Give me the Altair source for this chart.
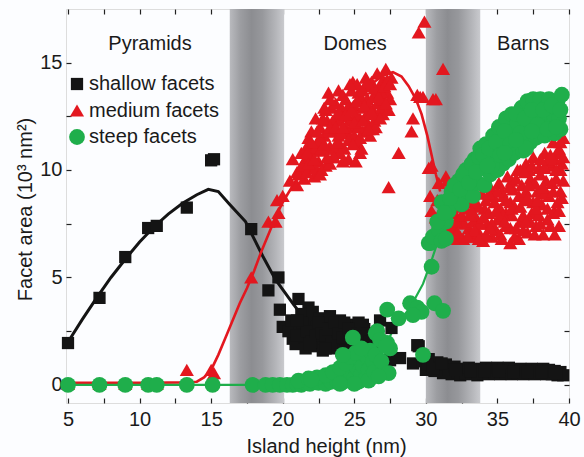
import altair as alt
import pandas as pd

# ---------------- data ----------------
series_names = ["shallow facets", "medium facets", "steep facets"]
series_colors = ["#141414", "#e3171f", "#1fae4b"]
series_shapes = ["square", "triangle-up", "circle"]
series_sizes = [150, 250, 185]

shallow_x = [5.0, 7.2, 9.0, 10.6, 11.2, 13.3, 15.0, 15.2,
             17.8, 19.0, 19.7, 19.8, 20.0, 20.7, 21.1, 21.8,
             20.4, 20.9, 21.2, 21.3, 21.5, 21.6, 21.9, 22.0, 22.1, 22.2, 22.4, 22.5, 22.6, 22.8,
             22.9, 23.0, 23.1, 23.3, 23.4, 23.5, 23.7, 23.8, 24.0, 24.1, 24.2, 24.4, 24.5, 24.7,
             24.8, 25.0, 25.1, 25.3, 25.4, 25.5, 25.7, 25.8, 26.0, 26.2, 26.4,
             20.6, 21.0, 21.4, 21.7, 22.0, 22.3, 22.5, 22.7, 23.0, 23.2, 23.4, 23.6, 23.9, 24.2,
             24.3, 24.6, 24.9, 25.2, 25.5, 25.6, 25.9, 26.1, 23.0, 24.5, 21.9, 21.0,
             26.8, 27.6, 29.5, 27.5, 28.2, 29.1, 27.0, 26.8, 29.4,
             29.8, 30.0, 30.2, 30.4, 30.6, 30.8, 31.0, 31.2, 31.4, 31.6, 31.8, 32.0, 32.2, 32.4,
             32.6, 32.8, 33.0, 33.2, 33.4, 33.6, 33.8, 34.0, 34.2, 34.4, 34.6, 34.8, 35.0, 35.2,
             35.4, 35.6, 35.8, 36.0, 36.2, 36.4, 36.6, 36.8, 37.0, 37.2, 37.4, 37.6, 37.8, 38.0,
             38.2, 38.4, 38.6, 38.8, 39.0, 39.2, 39.4, 39.6,
             30.1, 30.5, 31.1, 32.1, 33.1, 34.1, 35.1, 36.1, 37.1, 38.1, 39.1]
shallow_y = [1.95, 4.05, 5.95, 7.3, 7.4, 8.25, 10.45, 10.5,
             7.25, 4.4, 5.0, 3.5, 2.7, 2.15, 4.0, 3.6,
             2.5, 1.9, 2.6, 3.3, 2.2, 1.7, 2.9, 2.4, 3.4, 1.8, 2.7, 2.1, 3.1, 1.6,
             2.5, 2.9, 2.0, 3.2, 2.4, 1.7, 2.7, 2.1, 3.0, 1.6, 2.5, 2.0, 2.8, 2.3,
             1.7, 2.6, 2.0, 2.9, 1.5, 2.3, 2.6, 1.9, 2.2, 1.6, 2.0,
             3.0, 2.3, 2.9, 2.5, 2.0, 2.3, 2.9, 2.4, 2.3, 2.6, 1.9, 2.9, 2.4, 2.2,
             2.9, 2.6, 2.2, 2.4, 2.0, 2.8, 2.4, 2.0, 1.7, 1.6, 1.9, 3.0,
             3.0, 2.65, 1.8, 1.15, 1.25, 1.0, 0.85, 1.0, 1.85,
             1.1, 0.7, 1.2, 0.9, 0.65, 1.05, 0.8, 0.55, 0.95, 0.7, 0.5, 0.85, 0.6, 0.45,
             0.75, 0.55, 0.8, 0.5, 0.7, 0.45, 0.75, 0.55, 0.8, 0.5, 0.7, 0.55, 0.8, 0.5,
             0.75, 0.55, 0.8, 0.5, 0.7, 0.55, 0.75, 0.5, 0.7, 0.55, 0.75, 0.5, 0.7, 0.55,
             0.75, 0.5, 0.7, 0.5, 0.65, 0.45, 0.6, 0.45,
             0.95, 0.75, 1.0, 0.7, 0.65, 0.65, 0.65, 0.6, 0.6, 0.6, 0.55]

medium_x = [5.0, 7.2, 9.0, 10.6, 11.2, 13.3, 15.0, 15.2,
            17.8, 19.0, 19.5, 19.7, 19.6, 20.0, 20.5, 21.0, 20.7, 21.4, 21.8, 22.0, 22.3, 23.0, 23.2,
            21.0, 21.2, 21.3, 21.5, 21.6, 21.8, 22.0, 22.1, 22.2, 22.4, 22.5, 22.6, 22.8, 22.9,
            23.0, 23.1, 23.3, 23.4, 23.5, 23.6, 23.8, 23.9, 24.0, 24.1, 24.2, 24.3, 24.4, 24.5,
            24.6, 24.7, 24.9, 24.9, 25.0, 25.1, 25.2, 25.3, 25.4, 25.5, 25.6, 25.8, 25.8, 25.9,
            26.0, 26.1, 26.3, 26.3, 26.5, 26.6, 26.7, 26.8, 27.0, 27.0, 27.2, 27.3, 27.5, 27.6,
            21.1, 21.4, 21.7, 21.9, 22.3, 22.3, 22.6, 22.7, 23.0, 23.2, 23.3, 23.5, 23.6, 23.7,
            23.9, 24.0, 24.2, 24.3, 24.5, 24.6, 24.7, 24.8, 25.0, 25.1, 25.2, 25.4, 25.5, 25.6,
            25.7, 26.0, 26.1, 26.2, 26.3, 26.4, 26.6, 26.9, 27.0, 27.3, 27.4, 24.4, 24.0, 23.6,
            22.8, 22.0, 21.6, 22.6, 23.9, 25.3, 25.9, 26.5, 26.9, 25.6, 24.7, 22.9, 21.7,
            21.8, 22.2, 22.4, 22.7, 23.1, 23.3, 23.7, 23.8, 24.1, 24.4, 24.6, 24.8, 25.0, 25.2,
            25.4, 25.6, 25.7, 26.0, 26.2, 26.4, 26.7, 26.8, 27.1, 27.2, 27.5, 23.3, 24.2, 25.9,
            22.9, 24.9,
            28.1, 27.4, 29.1, 29.0, 29.6, 29.9, 29.5, 31.2, 29.8, 30.7, 29.4, 30.5, 30.2, 31.4,
            30.9, 30.4, 31.0, 30.4, 31.5, 30.8, 30.7, 30.3,
            30.6, 31.0, 31.3, 31.5, 32.0,
            31.6, 31.8, 32.0, 32.2, 32.4, 32.6, 32.8, 33.0, 33.2, 33.3, 33.5, 33.7, 33.9, 34.0,
            34.1, 34.3, 34.5, 34.6, 34.8, 35.0, 35.1, 35.2, 35.4, 35.6, 35.7, 35.9, 35.9, 36.1,
            36.2, 36.4, 36.5, 36.6, 36.7, 36.9, 37.0, 37.1, 37.3, 37.4, 37.5, 37.7, 37.8, 37.9,
            38.1, 38.2, 38.3, 38.4, 38.5, 38.6, 38.8, 38.9, 39.0, 39.1, 39.2, 39.3, 39.4, 39.5,
            39.5, 39.6,
            32.0, 32.3, 32.7, 33.0, 33.3, 33.6, 33.8, 34.2, 34.4, 34.7, 34.9, 35.2, 35.3, 35.6,
            35.9, 36.0, 36.3, 36.5, 36.8, 37.0, 37.2, 37.5, 37.6, 37.9, 38.0, 38.3, 38.5, 38.7,
            38.8, 39.0, 39.2, 39.4, 39.6, 39.3, 37.3, 36.0, 34.6, 33.4, 32.4, 38.9, 37.7, 36.6,
            35.4,
            31.9, 32.1, 32.5, 32.9, 33.1, 33.5, 33.7, 34.0, 34.2, 34.5, 34.9, 35.0, 35.3, 35.5,
            35.8, 36.0, 36.2, 36.3, 36.6, 36.8, 37.0, 37.1, 37.2, 37.4, 37.6, 37.8, 38.0, 38.2,
            38.3, 38.5, 38.7, 38.9, 39.0, 39.1, 39.3, 39.4, 39.6, 36.9, 35.6, 34.4, 33.2, 32.2,
            38.0]
medium_y = [0.05, 0.05, 0.05, 0.05, 0.05, 0.7, 0.7, 0.55,
            5.0, 7.6, 7.6, 8.0, 8.6, 8.8, 9.5, 9.9, 10.5, 10.3, 11.1, 11.8, 12.4, 12.8, 13.6,
            9.3, 10.0, 10.8, 9.6, 10.5, 11.5, 10.1, 10.9, 9.7, 11.3, 10.4, 12.0, 10.9, 11.6,
            10.2, 12.3, 11.1, 12.9, 10.6, 11.8, 12.4, 13.7, 11.2, 12.9, 10.4, 11.9, 13.3, 12.5,
            10.5, 11.5, 14.1, 12.0, 13.0, 10.4, 11.3, 13.6, 12.4, 11.0, 12.9, 14.3, 11.8, 13.3,
            12.1, 13.9, 11.9, 12.8, 13.5, 14.5, 12.6, 13.9, 12.6, 14.2, 14.7, 13.6, 13.3, 14.3,
            9.8, 10.2, 9.9, 10.6, 10.1, 11.0, 11.4, 10.0, 11.0, 11.8, 10.3, 12.3, 11.0, 13.1,
            11.6, 12.3, 13.5, 11.0, 11.8, 13.0, 12.3, 13.7, 11.6, 12.6, 14.0, 10.8, 13.3, 11.8,
            12.4, 13.0, 11.6, 14.1, 13.4, 12.3, 13.1, 12.9, 13.3, 14.2, 12.8, 12.0, 10.8, 10.6,
            12.4, 11.3, 11.0, 9.8, 12.7, 12.0, 12.6, 12.0, 13.6, 13.7, 14.0, 12.9, 10.8,
            10.3, 10.5, 11.8, 11.0, 10.6, 12.0, 12.0, 11.3, 11.7, 12.6, 11.4, 12.8, 12.2, 13.2,
            11.5, 12.3, 13.0, 11.9, 12.7, 13.8, 13.4, 12.4, 13.9, 13.1, 14.0, 13.3, 12.0, 14.1,
            11.2, 11.2,
            10.8, 9.2, 12.4, 11.8, 13.4, 16.9, 16.4, 14.7, 13.4, 13.3, 13.5, 13.3, 10.1, 9.7,
            9.4, 8.1, 7.2, 10.2, 9.5, 8.6, 7.8, 8.8,
            7.0, 8.0, 7.4, 8.4, 8.8,
            6.9, 7.5, 8.0, 7.0, 7.6, 6.8, 8.2, 7.3, 6.9, 8.6, 7.8, 7.1, 8.9, 6.7,
            8.2, 7.5, 9.2, 6.9, 8.5, 7.7, 9.4, 7.0, 8.8, 8.0, 9.7, 6.6, 7.3, 9.1,
            8.3, 10.0, 6.8, 7.6, 9.3, 8.6, 10.3, 7.1, 9.6, 8.0, 10.6, 7.4, 9.0, 10.1,
            8.4, 7.0, 10.8, 9.5, 7.7, 8.8, 10.2, 11.3, 8.1, 9.6, 10.8, 7.4, 9.0, 8.7,
            10.3, 11.5,
            7.3, 8.3, 7.5, 8.5, 7.6, 8.3, 7.5, 7.0, 8.0, 8.8, 7.2, 8.2, 9.0, 7.4,
            8.5, 9.5, 7.3, 8.8, 7.9, 9.0, 10.0, 8.5, 9.4, 7.9, 9.8, 8.9, 10.4, 7.4,
            9.4, 10.5, 8.5, 10.0, 9.5, 11.0, 7.6, 7.9, 7.5, 7.2, 6.9, 8.0, 8.2, 10.0,
            7.9,
            6.8, 7.6, 7.9, 6.9, 7.9, 8.5, 6.8, 7.8, 8.6, 7.3, 8.1, 9.0, 6.8, 7.6,
            9.2, 8.2, 6.9, 9.6, 8.3, 7.2, 7.6, 8.7, 9.3, 10.2, 7.0, 8.6, 7.5, 9.2,
            10.1, 8.2, 10.7, 9.0, 7.0, 10.0, 8.1, 11.3, 10.6, 9.9, 8.6, 8.9, 8.1, 7.1,
            10.5]

steep_x = [5.0, 7.2, 9.0, 10.6, 11.2, 13.3, 15.1, 17.9,
           18.8, 19.3, 19.8, 20.3, 20.7, 21.0, 21.3, 21.6, 21.9, 22.2, 22.5, 22.8, 23.0, 23.2,
           23.4, 23.6, 23.8, 24.0, 24.1, 24.3, 24.5, 24.6, 24.8, 24.9, 25.0, 25.2, 25.3, 25.4,
           25.5, 25.6, 25.8, 25.9, 26.0, 26.1, 26.2, 26.3,
           21.1, 21.8, 22.4, 23.0, 23.5, 24.0, 24.4, 24.7, 25.1, 25.5, 26.0, 26.4, 26.5, 26.9,
           25.0, 24.0, 22.0,
           24.9, 24.2, 26.6, 26.5, 27.3, 27.5, 27.4, 26.7, 27.3, 28.1, 28.9, 29.4, 29.7, 29.1,
           30.4, 30.6, 30.2, 31.2, 29.8, 26.8, 27.2,
           30.3, 30.5, 30.9, 31.1, 31.4, 31.1, 31.4, 31.6, 31.8, 32.1, 32.3, 32.5, 32.8, 32.9,
           33.1, 33.3, 33.4, 33.6, 33.8, 33.9, 34.1, 34.2, 34.3, 34.5, 34.7, 34.8, 35.0, 35.1,
           35.3, 35.4, 35.6, 35.7, 35.8, 36.0, 36.1, 36.2, 36.4, 36.5, 36.7, 36.8, 36.9, 37.1,
           37.2, 37.3, 37.5, 37.6, 37.7, 37.9, 38.0, 38.1, 38.3, 38.4, 38.6, 38.7, 38.9, 39.0,
           39.2, 39.3, 39.5, 39.4,
           30.8, 31.3, 31.7, 32.0, 32.4, 32.6, 33.0, 33.2, 33.5, 33.7, 34.0, 34.4, 34.6, 34.9,
           35.2, 35.5, 35.9, 36.3, 36.6, 36.9, 37.0, 37.4, 37.8, 38.2, 38.5, 38.8, 39.1, 39.4,
           37.4, 36.3, 35.5, 34.3]
steep_y = [0.0, 0.0, 0.0, 0.0, 0.0, 0.0, 0.0, 0.0,
           0.0, 0.0, 0.0, 0.0, 0.0, 0.05, 0.0, 0.1, 0.05, 0.15, 0.1, 0.2, 0.05, 0.3,
           0.15, 0.4, 0.2, 0.5, 0.1, 0.35, 0.7, 0.2, 0.5, 1.0, 0.3, 0.8, 0.15, 1.2,
           0.5, 0.9, 0.3, 1.3, 0.7, 1.6, 0.4, 1.1,
           0.2, 0.3, 0.35, 0.45, 0.6, 0.8, 1.0, 1.3, 1.5, 1.7, 0.2, 0.6, 1.4, 1.1,
           0.05, 0.05, 0.25,
           2.2, 1.4, 2.5, 2.4, 1.95, 1.7, 0.55, 0.4, 3.5, 3.1, 3.8, 3.6, 3.4, 3.25,
           5.5, 3.8, 6.6, 3.45, 1.4, 2.1, 1.8,
           6.6, 6.9, 7.2, 6.7, 6.8, 8.5, 7.6, 8.1, 9.0, 8.7, 9.5, 8.4, 10.0, 9.0,
           9.8, 8.8, 10.5, 9.4, 11.0, 10.1, 9.3, 11.2, 10.5, 9.8, 11.6, 10.8, 10.0, 12.0,
           11.2, 10.3, 12.4, 11.5, 10.5, 12.6, 11.8, 10.8, 12.2, 11.2, 12.9, 10.9, 11.8, 13.2,
           12.4, 11.3, 13.3, 12.0, 11.5, 12.8, 13.3, 12.2, 11.6, 12.9, 13.3, 12.0, 12.6, 11.7,
           13.2, 12.4, 13.5, 11.9,
           7.6, 8.0, 8.7, 9.3, 9.1, 9.8, 9.4, 10.3, 9.9, 10.6, 10.7, 11.0, 10.2, 11.3,
           10.7, 11.8, 11.2, 12.6, 11.7, 12.4, 11.0, 12.8, 12.1, 12.8, 11.9, 13.0, 12.0, 12.8,
           11.8, 11.4, 10.8, 10.2]

shallow_fit_x = [5, 6, 7, 8, 9, 10, 11, 12, 13, 14, 14.8, 15.5, 16.3, 17.4, 18.6, 19.5, 20.7, 21.6, 22.4]
shallow_fit_y = [2.0, 3.05, 4.05, 5.0, 5.85, 6.65, 7.35, 7.95, 8.45, 8.85, 9.1, 9.0, 8.4, 7.6, 6.0, 4.9, 3.8, 3.0, 2.6]

medium_fit_x = [5, 8, 11, 13, 14, 14.5, 15, 15.5, 16, 16.5, 17, 17.5, 18, 18.5, 19, 19.5, 20,
                21, 22, 23, 24, 25, 26, 27, 27.7, 28.3, 28.8, 29.3, 29.7, 30.1, 30.4, 30.7, 31.0]
medium_fit_y = [0.1, 0.1, 0.1, 0.12, 0.15, 0.35, 0.7, 1.4, 2.2, 3.0, 3.8, 4.5, 5.3, 6.2, 7.0, 7.8, 8.5,
                9.6, 10.6, 11.5, 12.4, 13.2, 13.9, 14.4, 14.55, 14.35, 13.9, 13.3, 12.6, 11.6, 10.7, 9.8, 9.0]

steep_fit_x = [5, 10, 15, 20, 22, 23, 24, 25, 26, 27, 27.6, 28.2, 28.9, 29.8, 30.4, 30.8, 31.2]
steep_fit_y = [0, 0, 0, 0, 0.05, 0.1, 0.2, 0.4, 0.8, 1.6, 2.4, 3.0, 3.6, 4.7, 5.8, 6.6, 7.5]

band_start = [16.3, 30.0]
band_end = [20.1, 33.8]

region_names = ["Pyramids", "Domes", "Barns"]
region_x = [10.73, 25.06, 36.8]
region_y = [15.58, 15.58, 15.58]

x_ticks = [5, 7.5, 10, 12.5, 15, 17.5, 20, 22.5, 25, 27.5, 30, 32.5, 35, 37.5, 40]
y_ticks = [0, 2.5, 5, 7.5, 10, 12.5, 15, 17.5]
x_domain = [4.86, 40.0]
y_domain = [-0.84, 17.49]

# ---------------- tables ----------------
pts = pd.concat([
    pd.DataFrame({"x": shallow_x, "y": shallow_y, "series": series_names[0]}),
    pd.DataFrame({"x": medium_x, "y": medium_y, "series": series_names[1]}),
    pd.DataFrame({"x": steep_x, "y": steep_y, "series": series_names[2]}),
], ignore_index=True)

fits = [
    pd.DataFrame({"x": shallow_fit_x, "y": shallow_fit_y}),
    pd.DataFrame({"x": medium_fit_x, "y": medium_fit_y}),
    pd.DataFrame({"x": steep_fit_x, "y": steep_fit_y}),
]
fit_widths = [3.0, 2.6, 2.2]

bands = pd.DataFrame({"x": band_start, "x2": band_end})
regions = pd.DataFrame({"x": region_x, "y": region_y, "name": region_names})

FONT = "Liberation Sans"
TXT = "#1a1a1a"

xscale = alt.Scale(domain=x_domain, nice=False, zero=False)
yscale = alt.Scale(domain=y_domain, nice=False, zero=False)

xaxis = alt.Axis(values=x_ticks, labelExpr="datum.value % 5 == 0 ? datum.label : ''",
                 tickSize=5, offset=-5, domain=False, grid=False, labelFlush=False,
                 labelPadding=6, labelFontSize=20, titleFontSize=20, titleFontWeight="normal",
                 titleX=260, titleY=54, titleBaseline="alphabetic", tickColor="#222",
                 tickWidth=1.2, labelColor=TXT, titleColor=TXT, labelFont=FONT, titleFont=FONT)
yaxis = alt.Axis(values=y_ticks, labelExpr="datum.value % 5 == 0 ? datum.label : ''",
                 tickSize=5, offset=-5, domain=False, grid=False, labelFlush=False,
                 labelPadding=4, labelFontSize=20, titleFontSize=20, titleFontWeight="normal",
                 titleX=-40, titleY=200, titleBaseline="alphabetic", tickColor="#222",
                 tickWidth=1.2, labelColor=TXT, titleColor=TXT, labelFont=FONT, titleFont=FONT)

xenc = alt.X("x:Q", scale=xscale, axis=xaxis, title="Island height (nm)")
yenc = alt.Y("y:Q", scale=yscale, axis=yaxis, title="Facet area (10\u00b3 nm\u00b2)")

gradient = alt.Gradient(
    gradient="linear", x1=0, x2=1, y1=0, y2=0,
    stops=[alt.GradientStop(color="#b9babe", offset=0),
           alt.GradientStop(color="#9c9da1", offset=0.2),
           alt.GradientStop(color="#8c8d91", offset=0.4),
           alt.GradientStop(color="#97989c", offset=0.6),
           alt.GradientStop(color="#b5b6ba", offset=0.85),
           alt.GradientStop(color="#c9cace", offset=1)])

band_layer = alt.Chart(bands).mark_rect(fill=gradient).encode(x=xenc, x2=alt.X2("x2"))

line_layers = [
    alt.Chart(df).mark_line(color=c, strokeWidth=w).encode(x=xenc, y=yenc)
    for df, c, w in zip(fits, series_colors, fit_widths)
]

legend = alt.Legend(title=None, orient="none", legendX=1, legendY=65, labelFontSize=20,
                    labelFont=FONT, labelColor=TXT, symbolSize=150, rowPadding=6.5,
                    padding=0, labelOffset=2, symbolStrokeWidth=0)

point_layer = alt.Chart(pts).mark_point(filled=True, opacity=1, strokeWidth=0).encode(
    x=xenc, y=yenc,
    color=alt.Color("series:N", scale=alt.Scale(domain=series_names, range=series_colors), legend=legend),
    shape=alt.Shape("series:N", scale=alt.Scale(domain=series_names, range=series_shapes), legend=legend),
    size=alt.Size("series:N", scale=alt.Scale(domain=series_names, range=series_sizes), legend=None),
)

text_layer = alt.Chart(regions).mark_text(fontSize=20, font=FONT, color=TXT, baseline="alphabetic").encode(
    x=xenc, y=yenc, text="name:N")

main = alt.layer(band_layer, *line_layers, point_layer, text_layer)

tick_axis_x = alt.Axis(orient="top", values=x_ticks, labels=False, tickSize=5, offset=-5,
                       domain=False, grid=False, tickColor="#222", tickWidth=1.2, title=None)
tick_axis_y = alt.Axis(orient="right", values=y_ticks, labels=False, tickSize=5, offset=-5,
                       domain=False, grid=False, tickColor="#222", tickWidth=1.2, title=None)
tick_layer = alt.Chart(pts).mark_point(opacity=0).encode(
    x=alt.X("x:Q", scale=xscale, axis=tick_axis_x, title=None),
    y=alt.Y("y:Q", scale=yscale, axis=tick_axis_y, title=None),
)

chart = alt.layer(main, tick_layer).resolve_axis(x="independent", y="independent").properties(
    width=503, height=394, autosize="none",
    padding={"left": 66, "top": 9, "right": 15, "bottom": 54},
    background="#fcfdff",
).configure_view(stroke="#222", strokeWidth=1.5, fill="#fcfdff").configure(font=FONT)

chart.save("out.html", embed_options={"renderer": "svg", "actions": False})
